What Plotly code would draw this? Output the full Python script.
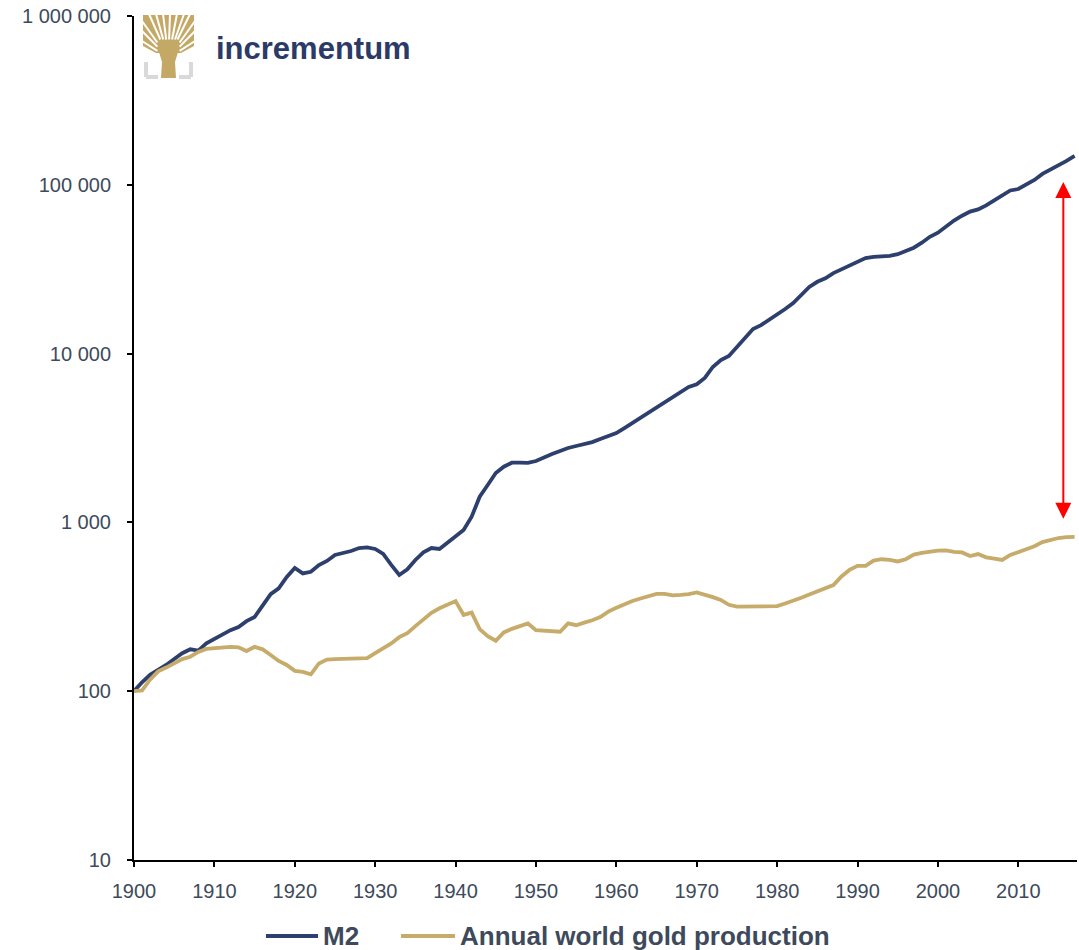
import math
import plotly.graph_objects as go

years = list(range(1900, 2018))

m2 = [
    100, 113, 125, 133, 143, 155, 168, 177, 174, 192,            # 1900-1909
    204, 215, 230, 240, 260, 275, 324, 376, 407, 475,            # 1910-1919
    537, 499, 510, 559, 591, 641, 659, 677, 705, 712,            # 1920-1929
    696, 650, 560, 488, 527, 599, 665, 705, 696, 755,            # 1930-1939
    831, 902, 1081, 1420, 1666, 1962, 2138, 2258, 2258, 2250,    # 1940-1949
    2310, 2440, 2542, 2649, 2760, 2835, 2910, 2990, 3120, 3250,  # 1950-1959
    3380, 3620, 3880, 4200, 4510, 4830, 5170, 5530, 5920, 6340,  # 1960-1969
    6580, 7170, 8330, 9160, 9680, 10950, 12380, 13990, 14750, 15800,  # 1970-1979
    16930, 18370, 19920, 22240, 24800, 26630, 27930, 29970, 31650, 33480,  # 1980-1989
    34930, 36800, 37400, 37500, 37900, 38800, 40500, 42400, 45400, 49200,  # 1990-1999
    52000, 56500, 61400, 65600, 69400, 71500, 75500, 80900, 86600, 92600,  # 2000-2009
    94400, 100000, 106900, 116000, 122800, 129300, 138500, 148200,         # 2010-2017
]

gold = [
    100, 101, 117, 131, 138, 147, 155, 160, 171, 178,   # 1900-1909
    180, 182, 183, 182, 173, 183, 177, 164, 151, 143,   # 1910-1919
    132, 130, 126, 146, 154, 155, 156, 157, 157, 157,   # 1920-1929
    168, 180, 192, 209, 221, 243, 268, 291, 310, 325,   # 1930-1939
    342, 283, 292, 233, 212, 199, 223, 234, 242, 252,   # 1940-1949
    230, 228, 226, 225, 252, 246, 255, 263, 275, 296,   # 1950-1959
    312, 329, 342, 354, 366, 377, 377, 370, 372, 376,   # 1960-1969
    385, 374, 361, 347, 325, 317, 318, 318, 318, 318,   # 1970-1979
    319, 331, 343, 358, 374, 392, 407, 425, 478, 523,   # 1980-1989
    553, 553, 594, 605, 600, 587, 605, 645, 660, 673,   # 1990-1999
    680, 683, 669, 664, 632, 649, 621, 611, 599, 641,   # 2000-2009
    667, 695, 722, 764, 790, 808, 818, 821,             # 2010-2017
]

series_names = ["M2", "Annual world gold production"]
y_tickvals = [10, 100, 1000, 10000, 100000, 1000000]
y_ticktext = ["10", "100", "1 000", "10 000", "100 000", "1 000 000"]
x_tickvals = list(range(1900, 2011, 10))
x_ticktext = [str(v) for v in x_tickvals]

arrow_year = 2015.6
arrow_top = 104000
arrow_bottom = 1030

NAVY = "#2D3F6C"
GOLD = "#C6AB6A"
TEXT = "#3E4A5B"

W, H = 1079, 950
PL, PR, PT, PB = 134, 1077, 16, 860


def px_x(px):
    return (px - PL) / (PR - PL)


def px_y(py):
    return (PB - py) / (PB - PT)


def poly(points):
    return "M " + " L ".join(f"{px_x(a)},{px_y(b)}" for a, b in points) + " Z"


fig = go.Figure()
fig.add_trace(go.Scatter(x=years, y=m2, mode="lines", name=series_names[0],
                         line=dict(color=NAVY, width=3.8), showlegend=False))
fig.add_trace(go.Scatter(x=years, y=gold, mode="lines", name=series_names[1],
                         line=dict(color=GOLD, width=3.8), showlegend=False))

fig.add_annotation(x=arrow_year, y=math.log10(arrow_top), ax=arrow_year,
                   ay=math.log10(arrow_bottom), xref="x", yref="y", axref="x", ayref="y",
                   text="", showarrow=True, arrowhead=2, startarrowhead=2,
                   arrowside="end+start", arrowcolor="#FF0000", arrowwidth=2,
                   arrowsize=1.6, startarrowsize=1.6)

shapes = []
# custom legend
shapes.append(dict(type="line", xref="paper", yref="paper", x0=px_x(266), x1=px_x(318),
                   y0=px_y(936), y1=px_y(936), line=dict(color=NAVY, width=4)))
shapes.append(dict(type="line", xref="paper", yref="paper", x0=px_x(401), x1=px_x(455),
                   y0=px_y(936), y1=px_y(936), line=dict(color=GOLD, width=4)))
fig.add_annotation(xref="paper", yref="paper", x=px_x(321), y=px_y(936), text="<b>M2</b>",
                   showarrow=False, xanchor="left", yanchor="middle",
                   font=dict(family="Liberation Sans, Arial", size=26, color=TEXT))
fig.add_annotation(xref="paper", yref="paper", x=px_x(458), y=px_y(936),
                   text="<b>Annual world gold production</b>",
                   showarrow=False, xanchor="left", yanchor="middle",
                   font=dict(family="Liberation Sans, Arial", size=26, color=TEXT))

# logo: tree icon
TREE = "#C4A866"
GREYB = "#D9D9D9"
# crown
shapes.append(dict(type="path", xref="paper", yref="paper",
                   path=poly([(143, 15), (194, 15), (194, 46), (181, 53), (156, 53), (143, 46)]),
                   fillcolor=TREE, line=dict(color=TREE, width=0)))
# trunk
shapes.append(dict(type="path", xref="paper", yref="paper",
                   path=poly([(161, 78), (176, 78), (175, 62), (178, 52), (159, 52), (162, 62)]),
                   fillcolor=TREE, line=dict(color=TREE, width=0)))
# white gaps between branches
cx, cy = 168.5, 58
gap_tips = [(149, 14), (156, 14), (163, 14), (170, 14), (177, 14), (184, 14), (190, 14),
            (142, 21), (195, 21), (142, 31), (195, 31), (142, 41), (195, 41)]
for (tx, ty) in gap_tips:
    sx = cx + (tx - cx) * 0.42
    sy = cy + (ty - cy) * 0.42
    shapes.append(dict(type="line", xref="paper", yref="paper",
                       x0=px_x(sx), y0=px_y(sy), x1=px_x(tx), y1=px_y(ty),
                       line=dict(color="white", width=2)))
for seg in [((146, 62), (146, 77)), ((146, 77), (158, 77)),
            ((191, 62), (191, 77)), ((179, 77), (191, 77))]:
    shapes.append(dict(type="line", xref="paper", yref="paper",
                       x0=px_x(seg[0][0]), y0=px_y(seg[0][1]),
                       x1=px_x(seg[1][0]), y1=px_y(seg[1][1]),
                       line=dict(color=GREYB, width=4)))
fig.add_annotation(xref="paper", yref="paper", x=px_x(214), y=px_y(49), text="<b>incrementum</b>",
                   showarrow=False, xanchor="left", yanchor="middle",
                   font=dict(family="Liberation Sans, Arial", size=31, color="#2B3A66"))

fig.update_layout(
    width=W, height=H,
    margin=dict(l=PL, r=W - PR, t=PT, b=H - PB),
    paper_bgcolor="white", plot_bgcolor="white",
    shapes=shapes,
    font=dict(family="Liberation Sans, Arial", color=TEXT),
)
fig.update_xaxes(range=[1900, 2017.3], tickvals=x_tickvals, ticktext=x_ticktext,
                 showgrid=False, zeroline=False, showline=True, linecolor="black", linewidth=2,
                 ticks="outside", ticklen=5, tickwidth=1.5, tickcolor="black",
                 tickfont=dict(size=20, color=TEXT), ticklabelstandoff=7)
fig.update_yaxes(type="log", range=[1, 6], tickvals=y_tickvals, ticktext=y_ticktext,
                 showgrid=False, zeroline=False, showline=True, linecolor="black", linewidth=2,
                 ticks="outside", ticklen=5, tickwidth=1.5, tickcolor="black",
                 tickfont=dict(size=20, color=TEXT), ticklabelstandoff=12)

fig.write_html("out.html", config={"displayModeBar": False},
               post_script="document.body.style.margin='0';document.body.style.overflow='hidden';")
